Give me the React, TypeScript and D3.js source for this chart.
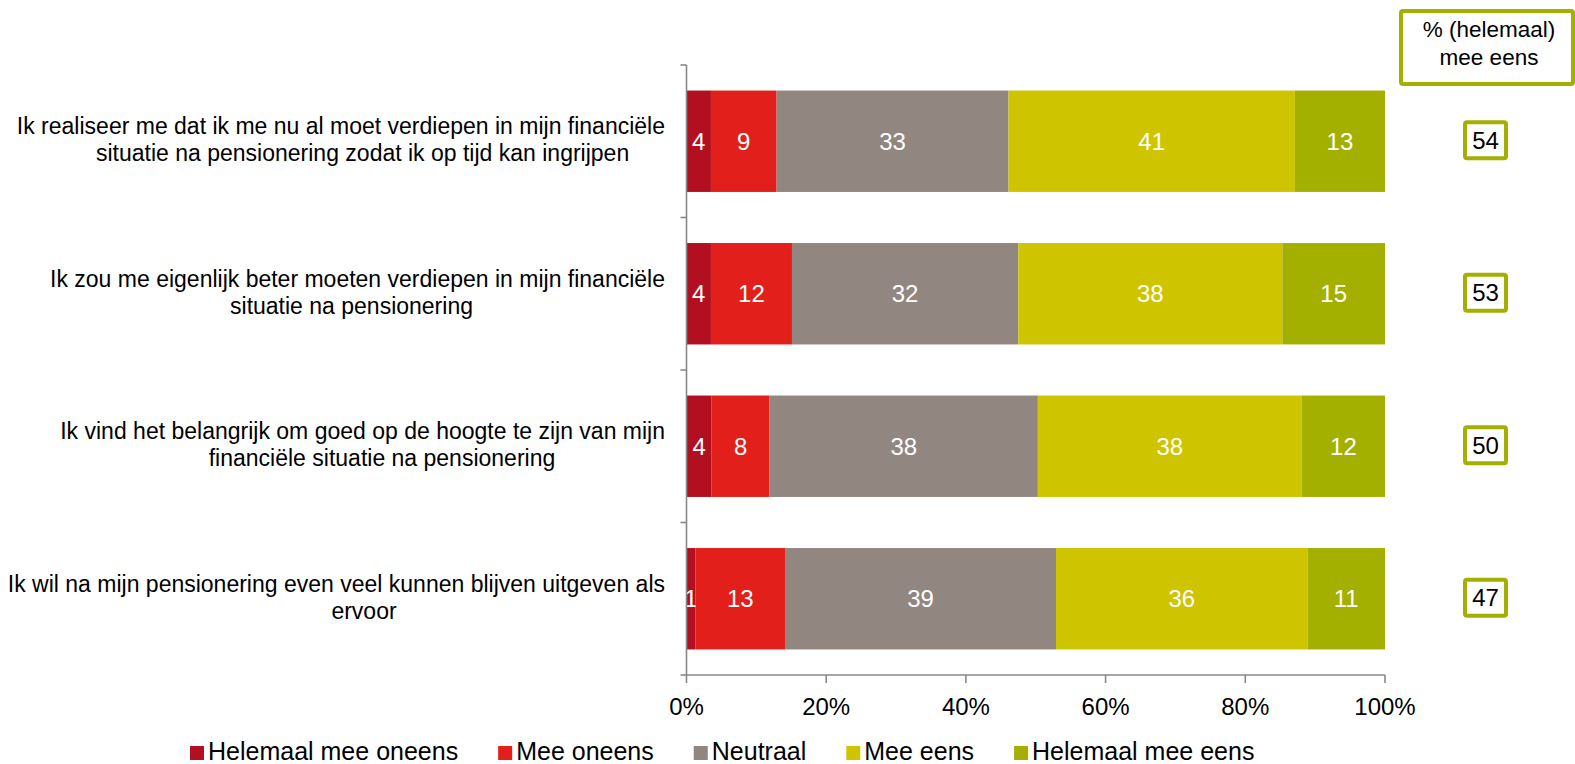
import React, { useEffect, useRef } from "react";
import * as d3 from "d3";

const categoryLines: string[][] = [
  ["Ik realiseer me dat ik me nu al moet verdiepen in mijn financiële", "situatie na pensionering zodat ik op tijd kan ingrijpen"],
  ["Ik zou me eigenlijk beter moeten verdiepen in mijn financiële", "situatie na pensionering"],
  ["Ik vind het belangrijk om goed op de hoogte te zijn van mijn", "financiële situatie na pensionering"],
  ["Ik wil na mijn pensionering even veel kunnen blijven uitgeven als", "ervoor"],
];

const seriesNames = ["Helemaal mee oneens", "Mee oneens", "Neutraal", "Mee eens", "Helemaal mee eens"];
const helemaalMeeOneens = [3.5, 3.5, 3.6, 1.3];
const meeOneens = [9.4, 11.6, 8.3, 12.8];
const neutraal = [33.2, 32.4, 38.4, 38.8];
const meeEens = [41.0, 37.8, 37.8, 36.0];
const helemaalMeeEens = [12.9, 14.7, 11.9, 11.1];
const agreeTotals = [54, 53, 50, 47];
const xTicks = [0, 20, 40, 60, 80, 100];
const headerLines = ["% (helemaal)", "mee eens"];

const colors = ["#b21020", "#e21f1b", "#928681", "#cfc400", "#a4b000"];
const boxColor = "#a4b000";
const FONT = "'Liberation Sans', Arial, Helvetica, sans-serif";

// layout: horizontal centre of each label's second line
const line2Centers = [362.6, 351.5, 382, 364];

export default function App() {
  const ref = useRef<SVGSVGElement | null>(null);

  useEffect(() => {
    const svg = d3.select(ref.current);
    svg.selectAll("*").remove();

    const series = [helemaalMeeOneens, meeOneens, neutraal, meeEens, helemaalMeeEens];
    const rows = categoryLines.map((_, i) => {
      const obj: any = { idx: i };
      seriesNames.forEach((s, j) => (obj[s] = series[j][i]));
      return obj;
    });
    const stacked = d3.stack().keys(seriesNames)(rows);

    const x = d3.scaleLinear().domain([0, 100]).range([686.5, 1385]);
    const y = d3.scaleBand<number>().domain(categoryLines.map((_, i) => i)).range([65, 675]).paddingInner(0.335).paddingOuter(0.1675);
    const step = y.step();
    const bandCenter = (i: number) => (y(i) as number) + y.bandwidth() / 2;

    // bars
    stacked.forEach((layer, j) => {
      const g = svg.append("g");
      g.selectAll("rect")
        .data(layer)
        .join("rect")
        .attr("x", (d) => x(d[0]))
        .attr("y", (_, i) => y(i) as number)
        .attr("width", (d) => x(d[1]) - x(d[0]))
        .attr("height", y.bandwidth())
        .attr("fill", colors[j]);
      g.selectAll("text")
        .data(layer)
        .join("text")
        .attr("x", (d) => (x(d[0]) + x(d[1])) / 2)
        .attr("y", (_, i) => bandCenter(i) + 8.5)
        .attr("text-anchor", "middle")
        .attr("fill", "#ffffff")
        .attr("font-family", FONT)
        .attr("font-size", 24)
        .text((d, i) => String(Math.round(series[j][i])));
    });

    const axisColor = "#888888";
    // y axis
    const yTop = 65, yBot = 675;
    svg.append("line").attr("x1", x(0)).attr("x2", x(0)).attr("y1", yTop).attr("y2", yBot).attr("stroke", axisColor).attr("stroke-width", 1.6);
    d3.range(categoryLines.length + 1).forEach((k) => {
      const yy = yTop + k * step;
      svg.append("line").attr("x1", x(0) - 6).attr("x2", x(0)).attr("y1", yy).attr("y2", yy).attr("stroke", axisColor).attr("stroke-width", 1.6);
    });
    // x axis
    svg.append("line").attr("x1", x(0)).attr("x2", x(100)).attr("y1", yBot).attr("y2", yBot).attr("stroke", axisColor).attr("stroke-width", 1.6);
    xTicks.forEach((t) => {
      svg.append("line").attr("x1", x(t)).attr("x2", x(t)).attr("y1", yBot).attr("y2", yBot + 8).attr("stroke", axisColor).attr("stroke-width", 1.6);
      svg.append("text").attr("x", x(t)).attr("y", 715).attr("text-anchor", "middle").attr("font-family", FONT).attr("font-size", 24).attr("fill", "#000").text(`${t}%`);
    });

    // category labels
    categoryLines.forEach((lines, i) => {
      const c = bandCenter(i);
      svg.append("text").attr("x", 665).attr("y", c - 7).attr("text-anchor", "end").attr("font-family", FONT).attr("font-size", 23).attr("fill", "#000").text(lines[0]);
      svg.append("text").attr("x", line2Centers[i]).attr("y", c + 20).attr("text-anchor", "middle").attr("font-family", FONT).attr("font-size", 23).attr("fill", "#000").text(lines[1]);
    });

    // header box
    svg.append("rect").attr("x", 1401).attr("y", 11).attr("width", 172).attr("height", 73).attr("rx", 2).attr("fill", "#fff").attr("stroke", boxColor).attr("stroke-width", 4);
    headerLines.forEach((l, k) => {
      svg.append("text").attr("x", 1489).attr("y", 37 + k * 28).attr("text-anchor", "middle").attr("font-family", FONT).attr("font-size", 22.5).attr("fill", "#000").text(l);
    });

    // value boxes
    agreeTotals.forEach((v, i) => {
      const c = bandCenter(i);
      svg.append("rect").attr("x", 1465).attr("y", c - 19).attr("width", 41).attr("height", 36).attr("rx", 2).attr("fill", "#fff").attr("stroke", boxColor).attr("stroke-width", 4);
      svg.append("text").attr("x", 1485.5).attr("y", c + 7.5).attr("text-anchor", "middle").attr("font-family", FONT).attr("font-size", 24).attr("fill", "#000").text(String(v));
    });

    // legend
    let lx = 190;
    seriesNames.forEach((s, j) => {
      svg.append("rect").attr("x", lx).attr("y", 746).attr("width", 14).attr("height", 14).attr("fill", colors[j]);
      const t = svg.append("text").attr("x", lx + 18).attr("y", 759.5).attr("font-family", FONT).attr("font-size", 25).attr("fill", "#000").text(s);
      const w = (t.node() as SVGTextElement).getComputedTextLength();
      lx += 18 + w + 40;
    });
  }, []);

  return (
    <svg ref={ref} width={1575} height={764} style={{ position: "absolute", left: 0, top: 0, background: "#fff" }} />
  );
}
